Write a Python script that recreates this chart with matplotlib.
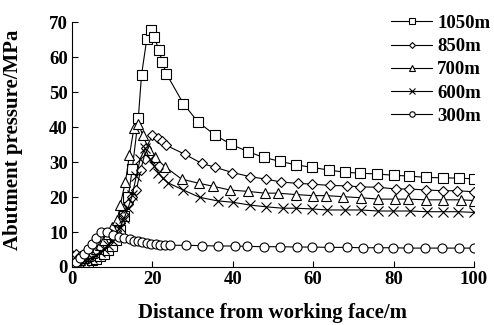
import matplotlib
matplotlib.use("Agg")
import matplotlib.pyplot as plt

plt.rcParams['font.family'] = ['Liberation Serif', 'DejaVu Serif']
plt.rcParams['font.weight'] = 'bold'

# abutment pressure ahead of the working face for each mining depth
x_1050 = [0, 1, 2, 3, 4, 5, 6, 7, 8, 9, 10, 11, 12, 13, 14, 15, 16.5, 17.3, 18.6, 19.6,
          20.5, 21.6, 22.5, 23.5, 27.7, 31.3, 35.6, 39.5, 43.9, 47.8, 51.7, 55.7, 59.6,
          63.9, 67.8, 71.7, 75.8, 80.1, 83.9, 88.0, 92.2, 96.3, 100]
y_1050 = [0, 0.3, 0.6, 1.0, 1.4, 1.9, 2.4, 3.0, 3.8, 4.8, 6.0, 7.8, 10.5, 14.5, 20.0,
          28.0, 42.5, 54.9, 65.1, 67.7, 65.7, 62.0, 58.5, 55.2, 46.7, 41.5, 37.7, 35.1,
          32.9, 31.3, 30.2, 29.2, 28.5, 27.7, 27.1, 26.8, 26.6, 26.2, 26.0, 25.6, 25.5,
          25.4, 25.2]

x_850 = [0, 1, 2, 3, 4, 5, 6, 7, 8, 9, 10, 11, 12, 13, 14, 15, 16, 17.1, 18.5, 20.0,
         21.3, 22.5, 23.4, 28.1, 32.3, 35.6, 39.9, 44.4, 48.3, 52.0, 56.1, 59.6, 64.2,
         68.3, 71.6, 76.0, 80.6, 83.9, 88.1, 92.4, 95.8, 100]
y_850 = [3.5, 3.8, 3.2, 3.0, 3.3, 3.8, 4.5, 5.3, 6.2, 7.2, 8.5, 10.2, 12.5, 15.0, 18.0,
         20.0, 22.0, 27.8, 34.0, 37.7, 37.0, 36.1, 34.8, 32.2, 29.6, 28.5, 27.0, 25.8,
         25.1, 24.3, 23.9, 23.7, 23.3, 23.2, 22.9, 22.8, 22.3, 22.3, 22.0, 21.8, 21.8,
         21.5]

x_700 = [0, 1, 2, 3, 4, 5, 6, 7, 8, 9, 10, 11.3, 12.0, 13.3, 14.3, 15.4, 16.5, 17.6,
         19.2, 20.6, 23.1, 27.3, 31.7, 35.0, 39.3, 43.9, 48.0, 51.2, 55.7, 59.9, 63.2,
         67.5, 71.8, 76.2, 80.3, 83.7, 88.1, 92.4, 96.7, 100]
y_700 = [1.0, 1.5, 2.0, 2.6, 3.2, 4.0, 5.0, 6.2, 7.6, 9.3, 11.3, 13.4, 17.7, 24.4, 32.0,
         39.6, 40.9, 37.7, 33.4, 31.5, 28.7, 25.1, 23.9, 23.1, 22.0, 21.6, 21.1, 21.1,
         20.7, 20.4, 20.4, 20.1, 19.8, 19.4, 19.4, 19.4, 19.2, 19.2, 19.2, 19.0]

x_600 = [0, 1, 2, 3, 4, 5, 6, 7, 8, 9, 10, 11, 12, 13, 14, 15, 16, 17, 18.2, 19.3,
         20.4, 21.5, 22.6, 24.0, 27.7, 31.8, 36.2, 40.0, 44.3, 48.3, 52.4, 55.7, 59.6,
         63.5, 67.9, 71.8, 76.2, 79.9, 84.1, 88.2, 92.2, 96.1, 100]
y_600 = [0.5, 0.8, 1.2, 1.6, 2.1, 2.7, 3.4, 4.2, 5.2, 6.4, 7.8, 9.5, 11.5, 14.0, 17.0,
         20.5, 26.0, 31.0, 33.9, 31.0, 29.0, 27.0, 25.3, 24.0, 22.0, 19.9, 18.9, 18.5,
         17.7, 17.2, 16.8, 16.8, 16.6, 16.3, 16.3, 16.3, 16.0, 16.0, 16.0, 15.8, 15.8,
         15.8, 15.6]

x_300 = [0, 1, 2, 3, 4, 5, 6.0, 7.1, 8.6, 10.1, 11.8, 13.0, 14.4, 15.5, 16.5, 17.5,
         18.6, 19.7, 20.8, 22.0, 23.2, 24.4, 28.3, 32.3, 36.4, 40.5, 43.5, 47.8, 51.7,
         55.9, 59.8, 64.0, 68.3, 72.3, 76.2, 79.8, 83.7, 87.8, 92.0, 96.3, 100]
y_300 = [0.5, 1.5, 2.6, 3.8, 5.2, 6.7, 8.2, 9.9, 9.9, 9.1, 8.7, 8.4, 7.9, 7.5, 7.3,
         7.0, 6.8, 6.7, 6.5, 6.4, 6.3, 6.2, 6.2, 6.1, 6.0, 6.0, 5.9, 5.8, 5.8, 5.7,
         5.7, 5.6, 5.6, 5.5, 5.5, 5.5, 5.4, 5.4, 5.4, 5.4, 5.4]

series = [
    ('1050m', x_1050, y_1050, 's', 6.5),
    ('850m', x_850, y_850, 'D', 5),
    ('700m', x_700, y_700, '^', 6.5),
    ('600m', x_600, y_600, 'x', 7),
    ('300m', x_300, y_300, 'o', 6.5),
]

fig = plt.figure(figsize=(4.94, 3.25), dpi=100)
ax = fig.add_axes([0.1457, 0.1785, 0.8138, 0.7535])

for label, xs, ys, m, ms in series:
    ax.plot(xs, ys, color='black', lw=0.8, marker=m, ms=ms,
            mfc='white', mec='black', mew=0.8, label=label)

ax.set_xlim(0, 100)
ax.set_ylim(0, 70)
ax.set_xticks([0, 20, 40, 60, 80, 100])
ax.set_yticks(range(0, 71, 10))
ax.spines['top'].set_visible(False)
ax.spines['right'].set_visible(False)
ax.tick_params(direction='in', length=4, width=0.8, labelsize=13.5, pad=3)
for t in ax.get_xticklabels() + ax.get_yticklabels():
    t.set_fontweight('bold')

ax.set_xlabel('Distance from working face/m', fontsize=15, fontweight='bold', labelpad=11)
ax.set_ylabel('Abutment pressure/MPa', fontsize=15, fontweight='bold')
ax.yaxis.set_label_coords(-0.122, 0.52)

leg = ax.legend(loc='upper left', bbox_to_anchor=(0.792, 0.955),
                bbox_transform=fig.transFigure, frameon=False,
                fontsize=13.5, markerscale=0.6, handlelength=2.2,
                handletextpad=0.25, labelspacing=0.33, borderaxespad=0, borderpad=0)
for t in leg.get_texts():
    t.set_fontweight('bold')

fig.savefig('out.png', dpi=100)
